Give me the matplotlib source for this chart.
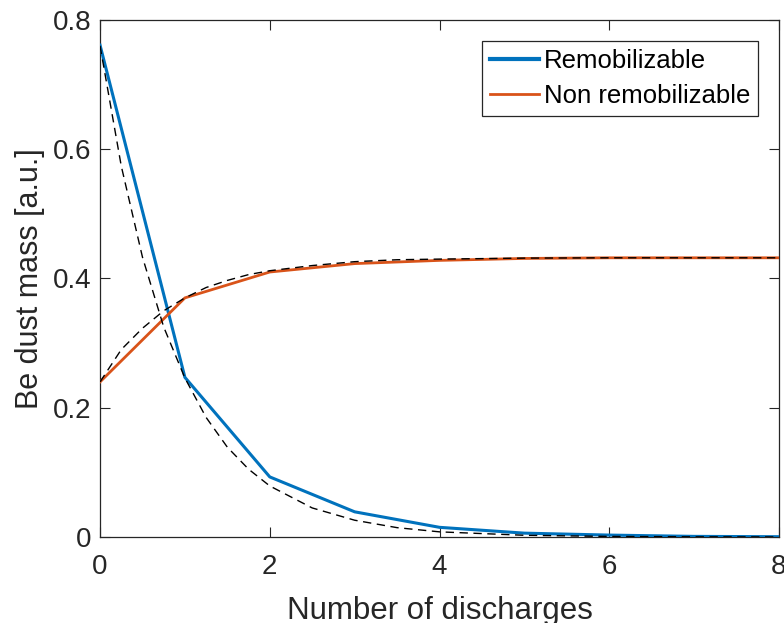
import numpy as np
import matplotlib
matplotlib.use("Agg")
import matplotlib.pyplot as plt

# measured masses per discharge
discharges = [0, 1, 2, 3, 4, 5, 6, 7, 8]
remobilizable = [0.761, 0.247, 0.093, 0.039, 0.015, 0.006, 0.003, 0.001, 0.0005]
non_remobilizable = [0.240, 0.370, 0.410, 0.423, 0.428, 0.431, 0.432, 0.432, 0.432]

# exponential fits (dashed)
fit_x = [0, 0.25, 0.5, 0.75, 1, 1.25, 1.5, 1.75, 2, 2.5, 3, 3.5, 4, 5, 6, 7, 8]
fit_remob = [0.760, 0.574, 0.433, 0.325, 0.246, 0.185, 0.139, 0.105, 0.079,
             0.045, 0.026, 0.0145, 0.008, 0.0027, 0.0009, 0.0003, 0.0001]
fit_nonremob = [0.240, 0.290, 0.323, 0.350, 0.370, 0.386, 0.397, 0.406, 0.412,
                0.420, 0.426, 0.429, 0.430, 0.4315, 0.432, 0.432, 0.432]

BLUE = "#0072BD"
ORANGE = "#D95319"
DARK = "#262626"

plt.rcParams["font.family"] = ["Liberation Sans", "DejaVu Sans"]

fig = plt.figure(figsize=(7.84, 6.23), dpi=100)
ax = fig.add_axes([0.1276, 0.138, 0.866, 0.830])

ax.plot(discharges, remobilizable, color=BLUE, lw=2.2, label="Remobilizable", zorder=3)
ax.plot(discharges, non_remobilizable, color=ORANGE, lw=2.0, label="Non remobilizable", zorder=3)
ax.plot(fit_x, fit_remob, color="black", lw=1.0, ls=(0, (6, 4)), zorder=4)
ax.plot(fit_x, fit_nonremob, color="black", lw=1.0, ls=(0, (6, 4)), zorder=4)

ax.set_xlim(0, 8)
ax.set_ylim(0, 0.8)
ax.set_xticks([0, 2, 4, 6, 8])
ax.set_yticks([0, 0.2, 0.4, 0.6, 0.8])
ax.set_xticklabels(["0", "2", "4", "6", "8"])
ax.set_yticklabels(["0", "0.2", "0.4", "0.6", "0.8"])

ax.tick_params(direction="in", length=7, width=0.8, labelsize=20, colors=DARK,
               top=True, right=True, pad=6)
ax.tick_params(axis="x", pad=12.5)
for s in ax.spines.values():
    s.set_color(DARK)
    s.set_linewidth(0.9)

ax.set_xlabel("Number of discharges", fontsize=22.5, color=DARK, labelpad=11)
ax.set_ylabel("Be dust mass [a.u.]", fontsize=22, color=DARK, labelpad=6)

leg = ax.legend(loc="upper right", bbox_to_anchor=(0.969, 0.959), borderaxespad=0,
                fontsize=18.5, handlelength=1.9, handletextpad=0.2, labelspacing=0.45,
                borderpad=0.3, fancybox=False, framealpha=1)
leg.get_frame().set_edgecolor(DARK)
leg.get_frame().set_linewidth(0.9)
for t in leg.get_texts():
    t.set_color("black")
leg.get_lines()[0].set_linewidth(3.0)

fig.savefig("out.png", dpi=100)
